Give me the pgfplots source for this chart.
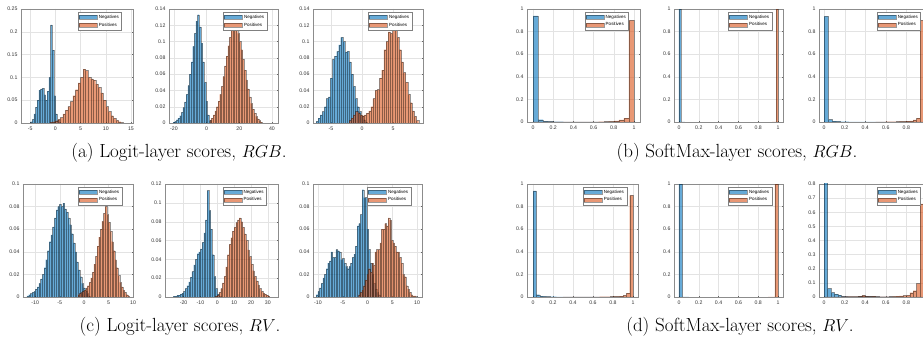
\documentclass[border=0pt]{standalone}
\usepackage{pgfplots}
\pgfplotsset{compat=1.18}
\usepackage{fontspec}
\newfontfamily\helv{Liberation Sans}
\definecolor{mblue}{rgb}{0,0.447,0.741}
\definecolor{morange}{rgb}{0.85,0.325,0.098}
\pgfplotsset{
 hbase/.style={scale only axis, anchor=north west, ymin=0, grid=major,
   major grid style={black!11, line width=0.3pt},
   axis line style={black!45, line width=0.35pt},
   tick style={black!60, line width=0.3pt}, major tick length=1.4pt, tick align=inside,
   ticklabel style={font=\helv\fontsize{5.2}{6}\selectfont, text=black!80},
   /pgf/number format/assume math mode=true,
   scaled x ticks=false, scaled y ticks=false,
   yticklabel style={/pgf/number format/fixed, /pgf/number format/precision=2},
   xticklabel style={/pgf/number format/fixed, /pgf/number format/precision=1},
   legend style={font=\helv\fontsize{4.5}{5}\selectfont, at={(0.9,0.975)}, anchor=north east,
     draw=black!50, line width=0.3pt, inner sep=0.8pt, row sep=-0.8pt},
   legend cell align=left},
 neg/.style={ybar interval, fill=mblue, fill opacity=0.6, draw=black, draw opacity=0.4, line width=0.22pt,
   legend image code/.code={\draw[##1] (0pt,-2.3pt) rectangle (18pt,2.3pt);}},
 pos/.style={ybar interval, fill=morange, fill opacity=0.6, draw=black, draw opacity=0.4, line width=0.22pt,
   legend image code/.code={\draw[##1] (0pt,-2.3pt) rectangle (18pt,2.3pt);}},
}
\begin{document}
\begin{tikzpicture}
\useasboundingbox (0pt,0pt) rectangle (923pt,352pt);
\clip (0pt,0pt) rectangle (923pt,352pt);
% ---------------- P1
\begin{axis}[hbase, at={(21pt,343pt)}, width=112pt, height=114pt, xmin=-6.8, xmax=15.4, ymax=0.25,
  xtick={-5,0,5,10,15}, ytick={0,0.05,0.1,0.15,0.2,0.25}]
\addplot[neg] coordinates {(-4.90,0.003) (-4.57,0.008) (-4.24,0.02) (-3.91,0.035) (-3.58,0.05) (-3.25,0.072) (-2.92,0.075) (-2.59,0.076) (-2.26,0.062) (-1.93,0.05) (-1.60,0.07) (-1.27,0.1) (-0.94,0.215) (-0.61,0.16) (-0.28,0.06) (0.05,0.02) (0.38,0.006) (0.71,0.002) (1.04,0)};
\addplot[pos] coordinates {(-1.0,0.002) (-0.5,0.003) (0.0,0.005) (0.5,0.008) (1.0,0.012) (1.5,0.02) (2.0,0.028) (2.5,0.036) (3.0,0.047) (3.5,0.06) (4.0,0.073) (4.5,0.088) (5.0,0.1) (5.5,0.118) (6.0,0.115) (6.5,0.1) (7.0,0.097) (7.5,0.094) (8.0,0.085) (8.5,0.078) (9.0,0.066) (9.5,0.05) (10.0,0.036) (10.5,0.025) (11.0,0.016) (11.5,0.01) (12.0,0.006) (12.5,0.003) (13.0,0.001) (13.5,0)};
\legend{Negatives,Positives}
\end{axis}
% ---------------- P2
\begin{axis}[hbase, at={(169pt,343pt)}, width=109pt, height=114pt, xmin=-23, xmax=43.7, ymax=0.14,
  xtick={-20,0,20,40}, ytick={0,0.02,0.04,0.06,0.08,0.1,0.12,0.14}]
\addplot[neg] coordinates {(-20.5,0.001) (-19.5,0.002) (-18.5,0.004) (-17.5,0.006) (-16.5,0.009) (-15.5,0.013) (-14.5,0.019) (-13.5,0.026) (-12.5,0.035) (-11.5,0.046) (-10.5,0.06) (-9.5,0.075) (-8.5,0.094) (-7.5,0.11) (-6.5,0.125) (-5.5,0.133) (-4.5,0.118) (-3.5,0.098) (-2.5,0.075) (-1.5,0.05) (-0.5,0.027) (0.5,0.01) (1.5,0.003) (2.5,0)};
\addplot[pos] coordinates {(2,0.003) (3,0.006) (4,0.01) (5,0.015) (6,0.02) (7,0.027) (8,0.035) (9,0.045) (10,0.057) (11,0.07) (12,0.082) (13,0.095) (14,0.105) (15,0.115) (16,0.12) (17,0.125) (18,0.118) (19,0.11) (20,0.1) (21,0.09) (22,0.078) (23,0.065) (24,0.053) (25,0.042) (26,0.032) (27,0.024) (28,0.017) (29,0.012) (30,0.008) (31,0.005) (32,0.003) (33,0.001) (34,0)};
\legend{Negatives,Positives}
\end{axis}
% ---------------- P3
\begin{axis}[hbase, at={(313pt,343pt)}, width=110pt, height=114pt, xmin=-7.9, xmax=9.8, ymax=0.14,
  xtick={-5,0,5}, ytick={0,0.02,0.04,0.06,0.08,0.1,0.12,0.14}]
\addplot[neg] coordinates {(-7.40,0.002) (-7.07,0.006) (-6.74,0.01) (-6.41,0.014) (-6.08,0.02) (-5.75,0.03) (-5.42,0.032) (-5.09,0.055) (-4.76,0.078) (-4.43,0.082) (-4.10,0.088) (-3.77,0.096) (-3.44,0.105) (-3.11,0.1) (-2.78,0.087) (-2.45,0.088) (-2.12,0.075) (-1.79,0.06) (-1.46,0.045) (-1.13,0.03) (-0.80,0.02) (-0.47,0.014) (-0.14,0.008) (0.19,0.004) (0.52,0.001) (0.85,0)};
\addplot[pos] coordinates {(-2.10,0.003) (-1.75,0.006) (-1.40,0.01) (-1.05,0.014) (-0.70,0.012) (-0.35,0.01) (0.00,0.009) (0.35,0.01) (0.70,0.012) (1.05,0.015) (1.40,0.02) (1.75,0.03) (2.10,0.04) (2.45,0.041) (2.80,0.055) (3.15,0.065) (3.50,0.09) (3.85,0.1) (4.20,0.112) (4.55,0.11) (4.90,0.118) (5.25,0.12) (5.60,0.105) (5.95,0.09) (6.30,0.075) (6.65,0.062) (7.00,0.05) (7.35,0.035) (7.70,0.025) (8.05,0.015) (8.40,0.008) (8.75,0.003) (9.10,0)};
\legend{Negatives,Positives}
\end{axis}
% ---------------- P4
\begin{axis}[hbase, at={(527pt,343pt)}, width=113pt, height=113pt, xmin=-0.06, xmax=1.06, ymax=1,
  xtick={0,0.2,0.4,0.6,0.8,1}, ytick={0,0.2,0.4,0.6,0.8,1}]
\addplot[neg] coordinates {(0,0.94) (0.05,0.02) (0.1,0.008) (0.15,0.005) (0.2,0.003) (0.25,0.003) (0.3,0.002) (0.35,0.002) (0.4,0.002) (0.45,0.002) (0.5,0.002) (0.55,0.001) (0.6,0.001) (0.65,0.001) (0.7,0.001) (0.75,0.001) (0.8,0.001) (0.85,0.001) (0.9,0.001) (0.95,0.001) (1.0,0)};
\addplot[pos] coordinates {(0,0.001) (0.05,0.001) (0.1,0.001) (0.15,0.001) (0.2,0.001) (0.25,0.001) (0.3,0.001) (0.35,0.001) (0.4,0.002) (0.45,0.002) (0.5,0.002) (0.55,0.002) (0.6,0.002) (0.65,0.003) (0.7,0.004) (0.75,0.005) (0.8,0.01) (0.85,0.018) (0.9,0.035) (0.95,0.9) (1.0,0)};
\legend{Negatives,Positives}
\end{axis}
% ---------------- P5
\begin{axis}[hbase, at={(674pt,343pt)}, width=109pt, height=113pt, xmin=-0.05, xmax=1.05, ymax=1,
  xtick={0,0.2,0.4,0.6,0.8,1}, ytick={0,0.2,0.4,0.6,0.8,1}]
\addplot[neg] coordinates {(0,0.998) (0.02,0.002) (0.04,0.001) (0.06,0)};
\addplot[pos] coordinates {(0.94,0.001) (0.96,0.002) (0.98,0.998) (1.0,0)};
\legend{Negatives,Positives}
\end{axis}
% ---------------- P6
\begin{axis}[hbase, at={(819pt,343pt)}, width=113pt, height=113pt, xmin=-0.05, xmax=1.05, ymax=1,
  xtick={0,0.2,0.4,0.6,0.8}, ytick={0,0.2,0.4,0.6,0.8,1}]
\addplot[neg] coordinates {(0,0.935) (0.04,0.022) (0.08,0.008) (0.12,0.005) (0.16,0.003) (0.2,0.003) (0.24,0.002) (0.28,0.002) (0.32,0.002) (0.36,0.002) (0.4,0.001) (0.44,0.001) (0.48,0.001) (0.52,0.001) (0.56,0.001) (0.6,0.001) (0.64,0.001) (0.68,0.001) (0.72,0.001) (0.76,0.001) (0.8,0.001) (0.84,0.001) (0.88,0.001) (0.92,0.001) (0.96,0.001) (1.0,0)};
\addplot[pos] coordinates {(0.5,0.002) (0.5333,0.002) (0.5667,0.002) (0.6,0.003) (0.6333,0.003) (0.6667,0.003) (0.7,0.004) (0.7333,0.005) (0.7667,0.006) (0.8,0.008) (0.8333,0.01) (0.8667,0.018) (0.9,0.035) (0.9333,0.9) (0.9667,0.05) (1.0,0)};
\legend{Negatives,Positives}
\end{axis}
% ---------------- P7
\begin{axis}[hbase, at={(23pt,168pt)}, width=110pt, height=113pt, xmin=-12.5, xmax=10, ymax=0.1,
  xtick={-10,-5,0,5,10}, ytick={0,0.02,0.04,0.06,0.08,0.1}]
\addplot[neg] coordinates {(-11.70,0.001) (-11.35,0.002) (-11.00,0.003) (-10.65,0.004) (-10.30,0.005) (-9.95,0.007) (-9.60,0.009) (-9.25,0.012) (-8.90,0.016) (-8.55,0.02) (-8.20,0.026) (-7.85,0.033) (-7.50,0.041) (-7.15,0.049) (-6.80,0.055) (-6.45,0.062) (-6.10,0.07) (-5.75,0.077) (-5.40,0.08) (-5.05,0.082) (-4.70,0.08) (-4.35,0.083) (-4.00,0.078) (-3.65,0.075) (-3.30,0.07) (-2.95,0.064) (-2.60,0.056) (-2.25,0.048) (-1.90,0.04) (-1.55,0.031) (-1.20,0.024) (-0.85,0.018) (-0.50,0.012) (-0.15,0.008) (0.20,0.005) (0.55,0.003) (0.90,0.001) (1.25,0)};
\addplot[pos] coordinates {(-1.30,0.002) (-0.97,0.003) (-0.64,0.004) (-0.31,0.005) (0.02,0.006) (0.35,0.008) (0.68,0.01) (1.01,0.013) (1.34,0.017) (1.67,0.022) (2.00,0.029) (2.33,0.036) (2.66,0.045) (2.99,0.053) (3.32,0.06) (3.65,0.067) (3.98,0.074) (4.31,0.08) (4.64,0.073) (4.97,0.066) (5.30,0.058) (5.63,0.049) (5.96,0.041) (6.29,0.033) (6.62,0.026) (6.95,0.019) (7.28,0.013) (7.61,0.009) (7.94,0.006) (8.27,0.004) (8.60,0.002) (8.93,0.001) (9.26,0)};
\legend{Negatives,Positives}
\end{axis}
% ---------------- P8
\begin{axis}[hbase, at={(165pt,168pt)}, width=113pt, height=113pt, xmin=-31, xmax=36, ymax=0.12,
  xtick={-20,-10,0,10,20,30}, ytick={0,0.02,0.04,0.06,0.08,0.1,0.12}]
\addplot[neg] coordinates {(-26,0.001) (-25,0.001) (-24,0.002) (-23,0.002) (-22,0.003) (-21,0.004) (-20,0.006) (-19,0.009) (-18,0.012) (-17,0.016) (-16,0.021) (-15,0.027) (-14,0.034) (-13,0.04) (-12,0.046) (-11,0.048) (-10,0.051) (-9,0.058) (-8,0.068) (-7,0.082) (-6,0.113) (-5,0.092) (-4,0.072) (-3,0.045) (-2,0.022) (-1,0.009) (0,0.003) (1,0.001) (2,0)};
\addplot[pos] coordinates {(-1,0.001) (0,0.002) (1,0.005) (2,0.009) (3,0.015) (4,0.022) (5,0.032) (6,0.045) (7,0.056) (8,0.063) (9,0.07) (10,0.074) (11,0.079) (12,0.082) (13,0.084) (14,0.08) (15,0.074) (16,0.067) (17,0.06) (18,0.05) (19,0.043) (20,0.035) (21,0.028) (22,0.022) (23,0.017) (24,0.013) (25,0.009) (26,0.006) (27,0.004) (28,0.003) (29,0.002) (30,0.001) (31,0)};
\legend{Negatives,Positives}
\end{axis}
% ---------------- P9
\begin{axis}[hbase, at={(313pt,168pt)}, width=109pt, height=113pt, xmin=-11, xmax=11, ymax=0.1,
  xtick={-10,-5,0,5,10}, ytick={0,0.02,0.04,0.06,0.08,0.1}]
\addplot[neg] coordinates {(-10.35,0.002) (-10.02,0.005) (-9.69,0.008) (-9.36,0.012) (-9.03,0.017) (-8.70,0.02) (-8.37,0.025) (-8.04,0.03) (-7.71,0.032) (-7.38,0.04) (-7.05,0.035) (-6.72,0.035) (-6.39,0.042) (-6.06,0.041) (-5.73,0.04) (-5.40,0.033) (-5.07,0.034) (-4.74,0.03) (-4.41,0.027) (-4.08,0.025) (-3.75,0.027) (-3.42,0.03) (-3.09,0.035) (-2.76,0.038) (-2.43,0.045) (-2.10,0.063) (-1.77,0.065) (-1.44,0.073) (-1.11,0.095) (-0.78,0.088) (-0.45,0.088) (-0.12,0.06) (0.21,0.042) (0.54,0.03) (0.87,0.02) (1.20,0.012) (1.53,0.007) (1.86,0.004) (2.19,0.002) (2.52,0)};
\addplot[pos] coordinates {(-1.80,0.002) (-1.47,0.004) (-1.14,0.006) (-0.81,0.01) (-0.48,0.015) (-0.15,0.02) (0.18,0.025) (0.51,0.022) (0.84,0.03) (1.17,0.028) (1.50,0.04) (1.83,0.042) (2.16,0.042) (2.49,0.048) (2.82,0.06) (3.15,0.06) (3.48,0.065) (3.81,0.063) (4.14,0.07) (4.47,0.068) (4.80,0.05) (5.13,0.048) (5.46,0.045) (5.79,0.04) (6.12,0.04) (6.45,0.035) (6.78,0.03) (7.11,0.02) (7.44,0.018) (7.77,0.01) (8.10,0.007) (8.43,0.004) (8.76,0.002) (9.09,0.001) (9.42,0.001) (9.75,0)};
\legend{Negatives,Positives}
\end{axis}
% ---------------- P10
\begin{axis}[hbase, at={(527pt,168pt)}, width=111pt, height=113pt, xmin=-0.06, xmax=1.05, ymax=1,
  xtick={0,0.2,0.4,0.6,0.8,1}, ytick={0,0.2,0.4,0.6,0.8,1}]
\addplot[neg] coordinates {(0,0.94) (0.0333,0.02) (0.0667,0.008) (0.1,0.006) (0.1333,0.004) (0.1667,0.003) (0.2,0.003) (0.2333,0.002) (0.2667,0.002) (0.3,0.002) (0.3333,0.002) (0.3667,0.002) (0.4,0.002) (0.4333,0.002) (0.4667,0.002) (0.5,0.001) (0.5333,0.001) (0.5667,0.001) (0.6,0.001) (0.6333,0.001) (0.6667,0.001) (0.7,0.001) (0.7333,0.001) (0.7667,0.001) (0.8,0.001) (0.8333,0.001) (0.8667,0.001) (0.9,0.001) (0.9333,0.001) (0.9667,0.001) (1.0,0)};
\addplot[pos] coordinates {(0.3,0.001) (0.3333,0.001) (0.3667,0.001) (0.4,0.001) (0.4333,0.001) (0.4667,0.002) (0.5,0.002) (0.5333,0.002) (0.5667,0.002) (0.6,0.002) (0.6333,0.002) (0.6667,0.003) (0.7,0.003) (0.7333,0.003) (0.7667,0.004) (0.8,0.005) (0.8333,0.006) (0.8667,0.008) (0.9,0.015) (0.9333,0.035) (0.9667,0.9) (1.0,0)};
\legend{Negatives,Positives}
\end{axis}
% ---------------- P11
\begin{axis}[hbase, at={(674pt,168pt)}, width=109pt, height=113pt, xmin=-0.05, xmax=1.05, ymax=1,
  xtick={0,0.2,0.4,0.6,0.8,1}, ytick={0,0.2,0.4,0.6,0.8,1}]
\addplot[neg] coordinates {(0,0.998) (0.0333,0.002) (0.0667,0.001) (0.1,0)};
\addplot[pos] coordinates {(0.9,0.001) (0.9333,0.002) (0.9667,0.998) (1.0,0)};
\legend{Negatives,Positives}
\end{axis}
% ---------------- P12
\begin{axis}[hbase, at={(819pt,168pt)}, width=113pt, height=113pt, xmin=-0.05, xmax=1.05, ymax=0.8,
  xtick={0,0.2,0.4,0.6,0.8}, ytick={0,0.1,0.2,0.3,0.4,0.5,0.6,0.7,0.8}]
\addplot[neg] coordinates {(0,0.85) (0.0333,0.06) (0.0667,0.031) (0.1,0.021) (0.1333,0.014) (0.1667,0.006) (0.2,0.004) (0.2333,0.003) (0.2667,0.003) (0.3,0.003) (0.3333,0.004) (0.3667,0.008) (0.4,0.004) (0.4333,0.003) (0.4667,0.003) (0.5,0.002) (0.5333,0.002) (0.5667,0.002) (0.6,0.002) (0.6333,0.002) (0.6667,0.001) (0.7,0.001) (0.7333,0.001) (0.7667,0.001) (0.8,0.001) (0.8333,0.001) (0.8667,0.001) (0.9,0.001) (0.9333,0.001) (0.9667,0.001) (1.0,0)};
\addplot[pos] coordinates {(0,0.001) (0.0333,0.001) (0.0667,0.001) (0.1,0.001) (0.1333,0.001) (0.1667,0.002) (0.2,0.002) (0.2333,0.002) (0.2667,0.002) (0.3,0.002) (0.3333,0.005) (0.3667,0.012) (0.4,0.004) (0.4333,0.003) (0.4667,0.004) (0.5,0.003) (0.5333,0.002) (0.5667,0.002) (0.6,0.002) (0.6333,0.003) (0.6667,0.004) (0.7,0.006) (0.7333,0.008) (0.7667,0.01) (0.8,0.012) (0.8333,0.03) (0.8667,0.045) (0.9,0.095) (0.9333,0.66) (0.9667,0.1) (1.0,0)};
\legend{Negatives,Positives}
\end{axis}
% ---------------- captions
\node[anchor=base, font=\fontsize{19}{22}\selectfont] at (179pt,194.5pt) {(a) Logit-layer scores, $RGB$.};
\node[anchor=base, font=\fontsize{19}{22}\selectfont] at (737pt,194.5pt) {(b) SoftMax-layer scores, $RGB$.};
\node[anchor=base, font=\fontsize{19}{22}\selectfont] at (180pt,20.5pt) {(c) Logit-layer scores, $RV$.};
\node[anchor=base, font=\fontsize{19}{22}\selectfont] at (740pt,20.5pt) {(d) SoftMax-layer scores, $RV$.};
\end{tikzpicture}
\end{document}
